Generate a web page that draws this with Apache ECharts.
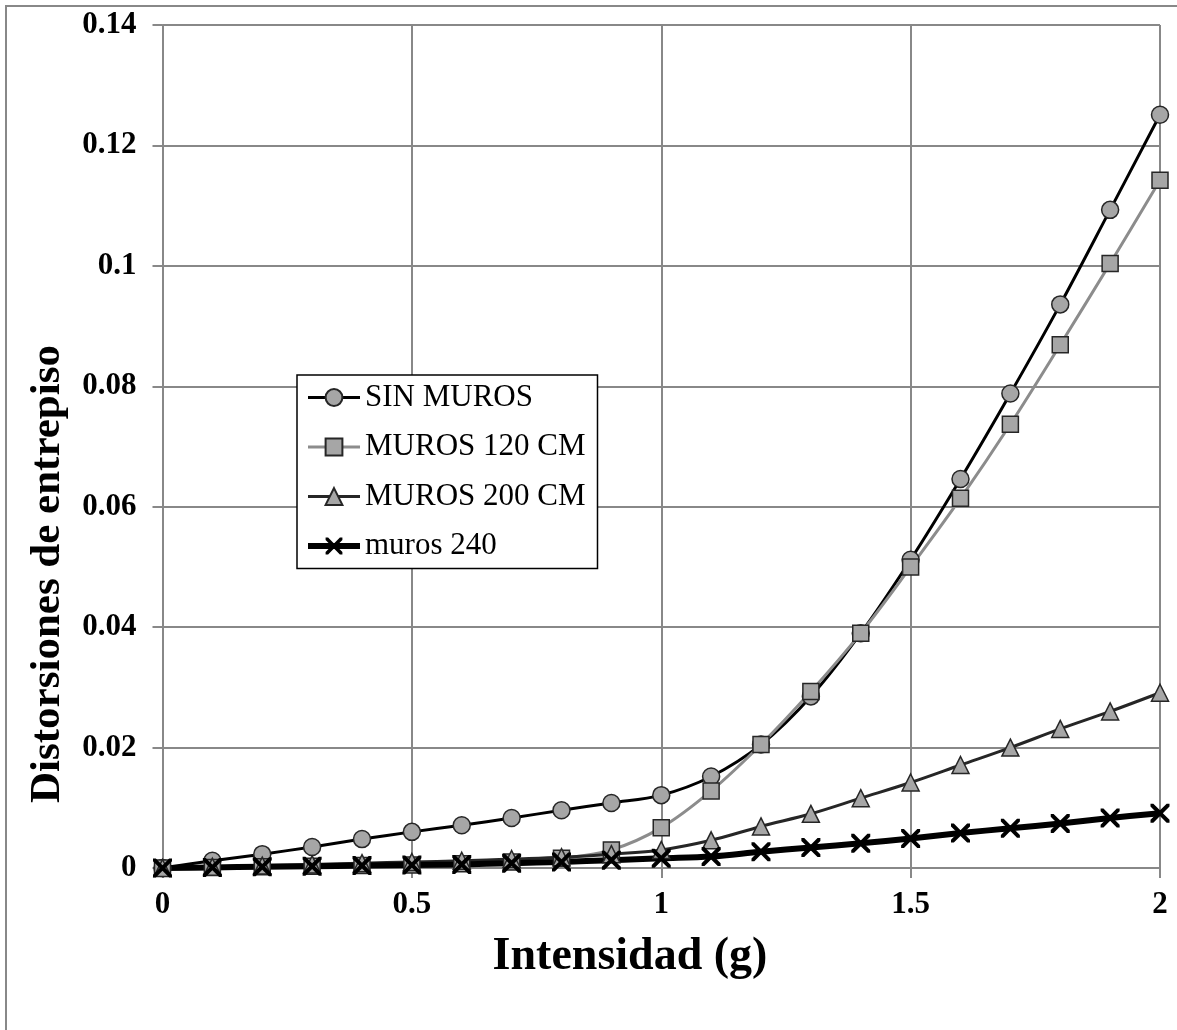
<!DOCTYPE html>
<html>
<head>
<meta charset="utf-8">
<script src="https://cdn.jsdelivr.net/npm/echarts@6/dist/echarts.min.js"></script>
<style>
html,body{margin:0;padding:0;background:#fff;}
#chart{width:1177px;height:1030px;}
</style>
</head>
<body>
<div id="chart"></div>
<script>
// ---- data ----
const intensidad = [0, 0.1, 0.2, 0.3, 0.4, 0.5, 0.6, 0.7, 0.8, 0.9, 1.0, 1.1, 1.2, 1.3, 1.4, 1.5, 1.6, 1.7, 1.8, 1.9, 2.0];
const sinMuros  = [0, 0.0012, 0.0023, 0.0035, 0.0048, 0.0060, 0.0071, 0.0083, 0.0096, 0.0108, 0.0121, 0.0152, 0.0205, 0.0285, 0.0390, 0.0512, 0.0646, 0.0788, 0.0936, 0.1093, 0.1251];
const muros120  = [0, 0.0001, 0.0002, 0.0003, 0.0004, 0.0005, 0.0007, 0.0010, 0.0016, 0.0030, 0.0067, 0.0128, 0.0205, 0.0293, 0.0390, 0.0500, 0.0614, 0.0737, 0.0869, 0.1004, 0.1142];
const muros200  = [0, 0.0002, 0.0004, 0.0006, 0.0008, 0.0010, 0.0012, 0.0015, 0.0018, 0.0023, 0.0030, 0.0046, 0.0069, 0.0090, 0.0116, 0.0142, 0.0171, 0.0200, 0.0231, 0.0260, 0.0291];
const muros240  = [0, 0.0001, 0.0002, 0.0003, 0.0004, 0.0005, 0.0006, 0.0008, 0.0010, 0.0013, 0.0016, 0.0019, 0.0027, 0.0034, 0.0041, 0.0049, 0.0058, 0.0066, 0.0074, 0.0083, 0.0091];
const seriesNames = ['SIN MUROS', 'MUROS 120 CM', 'MUROS 200 CM', 'muros 240'];
const xTitle = 'Intensidad (g)';
const yTitle = 'Distorsiones de entrepiso';

const FONT = "'Liberation Serif', 'Times New Roman', serif";
const GRID_C = '#888888';
const MARK_FILL = '#A6A6A6';
const MARK_BORDER = '#262626';
const X_SYMBOL = 'path://M0,0 L1.5,0 L5,3.5 L8.5,0 L10,0 L10,1.5 L6.5,5 L10,8.5 L10,10 L8.5,10 L5,6.5 L1.5,10 L0,10 L0,8.5 L3.5,5 L0,1.5 Z';
const LINE_COLORS = ['#000000', '#8C8C8C', '#262626', '#000000'];
const LINE_WIDTHS = [3, 3, 3, 6];

function pairs(ys){ return intensidad.map((x,i)=>[x, ys[i]]); }

const chart = echarts.init(document.getElementById('chart'), null, {renderer:'canvas'});
chart.setOption({
  backgroundColor: '#ffffff',
  animation: false,
  grid: {left: 162.5, right: 17, top: 25, bottom: 162, containLabel: false},
  xAxis: {
    type: 'value', min: 0, max: 2, interval: 0.5,
    axisLine: {show: true, lineStyle: {color: GRID_C, width: 2}},
    axisTick: {show: true, length: 10, lineStyle: {color: GRID_C, width: 2}},
    splitLine: {show: true, lineStyle: {color: GRID_C, width: 2}},
    axisLabel: {color: '#000', fontFamily: FONT, fontWeight: 'bold', fontSize: 31, margin: 21}
  },
  yAxis: {
    type: 'value', min: 0, max: 0.14, interval: 0.02,
    axisLine: {show: true, lineStyle: {color: GRID_C, width: 2}},
    axisTick: {show: true, length: 10, lineStyle: {color: GRID_C, width: 2}},
    splitLine: {show: true, lineStyle: {color: GRID_C, width: 2}},
    axisLabel: {color: '#000', fontFamily: FONT, fontWeight: 'bold', fontSize: 31, margin: 26}
  },
  legend: {
    orient: 'vertical', left: 297, top: 375,
    padding: [7, 12, 7, 8],
    itemGap: 18.5, itemWidth: 52, itemHeight: 21,
    backgroundColor: '#fff', borderColor: '#000', borderWidth: 1.5,
    textStyle: {color: '#000', fontFamily: FONT, fontSize: 31},
    data: seriesNames.map((n, i) => ({name: n, lineStyle: {width: LINE_WIDTHS[i], color: LINE_COLORS[i]}}))
  },
  graphic: [
    {type: 'rect', silent: true, z: -10, shape: {x: 6, y: 6, width: 1400, height: 1400},
     style: {fill: 'none', stroke: GRID_C, lineWidth: 2}},
    {type: 'text', x: 630, y: 957, silent: true,
     style: {text: xTitle, fill: '#000', font: "bold 46px 'Liberation Serif', 'Times New Roman', serif", textAlign: 'center', textVerticalAlign: 'middle'}},
    {type: 'text', x: 48, y: 574, rotation: Math.PI/2, silent: true,
     style: {text: yTitle, fill: '#000', font: "bold 43px 'Liberation Serif', 'Times New Roman', serif", textAlign: 'center', textVerticalAlign: 'middle'}}
  ],
  series: [
    {name: seriesNames[0], type: 'line', smooth: 0.35, data: pairs(sinMuros),
     symbol: 'circle', symbolSize: 17,
     lineStyle: {color: LINE_COLORS[0], width: LINE_WIDTHS[0]},
     itemStyle: {color: MARK_FILL, borderColor: MARK_BORDER, borderWidth: 1.5}},
    {name: seriesNames[1], type: 'line', smooth: 0.35, data: pairs(muros120),
     symbol: 'rect', symbolSize: 16,
     lineStyle: {color: LINE_COLORS[1], width: LINE_WIDTHS[1]},
     itemStyle: {color: MARK_FILL, borderColor: MARK_BORDER, borderWidth: 1.5}},
    {name: seriesNames[2], type: 'line', smooth: 0.35, data: pairs(muros200),
     symbol: 'triangle', symbolSize: 17,
     lineStyle: {color: LINE_COLORS[2], width: LINE_WIDTHS[2]},
     itemStyle: {color: MARK_FILL, borderColor: MARK_BORDER, borderWidth: 1.5}},
    {name: seriesNames[3], type: 'line', smooth: 0.35, data: pairs(muros240),
     symbol: X_SYMBOL, symbolSize: 19,
     lineStyle: {color: LINE_COLORS[3], width: LINE_WIDTHS[3]},
     itemStyle: {color: '#000', borderWidth: 0}}
  ]
});
</script>
</body>
</html>
